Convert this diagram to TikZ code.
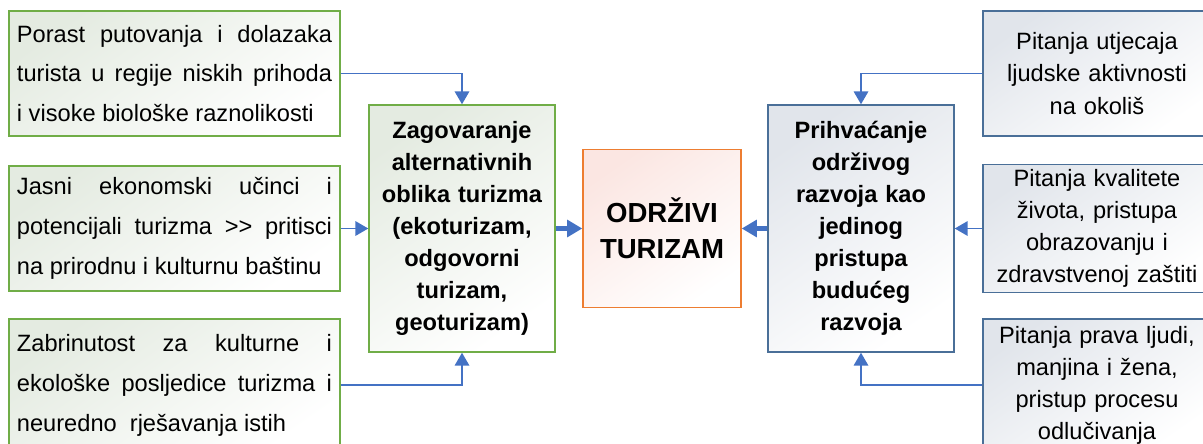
\documentclass[tikz,border=0pt]{standalone}
\usepackage{fontspec}
\setmainfont{Liberation Sans}
\usetikzlibrary{arrows.meta}
\tikzset{>={Triangle[length=3.2mm,width=3.6mm]}}
\definecolor{cgr}{HTML}{70AD47}
\definecolor{cor}{HTML}{ED7D31}
\definecolor{cbl}{HTML}{4A6F98}
\definecolor{car}{HTML}{4472C4}
\definecolor{cgrl}{HTML}{E4EBE1}
\definecolor{corl}{HTML}{FBE6E2}
\definecolor{cbll}{HTML}{E1E5EB}
\tikzset{
  lbox/.style={draw=cgr, line width=1pt, top color=cgrl, bottom color=white, shading angle=35,
    text width=7.875cm, inner xsep=0.2cm, minimum height=3.125cm, align=justify,
    font=\fontsize{16.8}{28.4}\selectfont},
  rbox/.style={draw=cbl, line width=1pt, top color=cbll, bottom color=white, shading angle=35,
    text width=5.3cm, minimum width=5.7cm, minimum height=3.125cm, align=center,
    font=\fontsize{16.8}{22.8}\selectfont},
  cbox/.style={line width=1pt, text width=4.4cm, minimum width=4.65cm, minimum height=6.175cm,
    align=center, font=\bfseries\fontsize{16.8}{22.8}\selectfont},
  arr/.style={->, draw=car, line width=1.2pt},
  thickarr/.style={-{Triangle[length=3.8mm,width=4.2mm]}, draw=car, line width=3pt}
}

\begin{document}
\begin{tikzpicture}[x=0.025cm, y=-0.025cm]
    \useasboundingbox (0, 0) rectangle (1203, 443);
    \clip (0, 0) rectangle (1203, 443);
    % lijevi stupac
    \node[lbox] (porast) at (174.5, 73.5)
        {Porast putovanja i dolazaka\linebreak turista u regije niskih prihoda\linebreak i visoke biološke raznolikosti};
    \node[lbox] (ucinci) at (174.5, 228.5)
        {Jasni ekonomski učinci i\linebreak potencijali turizma >{}> pritisci\linebreak na prirodnu i kulturnu baštinu};
    \node[lbox, minimum height=3.3cm] (zabrinutost) at (174.5, 385)
        {Zabrinutost za kulturne i\linebreak ekološke posljedice turizma i\linebreak neuredno\ \ rješavanja istih};
    % sredina
    \node[cbox, draw=cgr, top color=cgrl, bottom color=white, shading angle=35] (zagovaranje) at (462, 228.5)
        {Zagovaranje\\ alternativnih\\ oblika turizma\\ (ekoturizam,\\ odgovorni\\ turizam,\\ geoturizam)};
    \node[draw=cor, line width=1pt, top color=corl, bottom color=white, shading angle=35,
        minimum width=3.95cm, minimum height=3.95cm, align=center,
        font=\bfseries\fontsize{19.6}{25.6}\selectfont] (odrzivi) at (662, 228.5) {ODRŽIVI\\ TURIZAM};
    \node[cbox, draw=cbl, top color=cbll, bottom color=white, shading angle=35] (prihvacanje) at (861, 228.5)
        {Prihvaćanje\\ održivog\\ razvoja kao\\ jedinog\\ pristupa\\ budućeg\\ razvoja};
    % desni stupac
    \node[rbox] (utjecaj) at (1097, 73.5) {Pitanja utjecaja\\ ljudske aktivnosti\\ na okoliš};
    \node[rbox] (kvaliteta) at (1097, 228.5) {Pitanja kvalitete\\ života, pristupa\\ obrazovanju i\\ zdravstvenoj zaštiti};
    \node[rbox, minimum height=3.3cm] (prava) at (1097, 385) {Pitanja prava ljudi,\\ manjina i žena,\\ pristup procesu\\ odlučivanja};
    % strelice
    \draw[arr] (porast.east) -| (zagovaranje.north);
    \draw[arr] (ucinci.east) -- (zagovaranje.west);
    \draw[arr] (zabrinutost.east) -| (zagovaranje.south);
    \draw[arr] (utjecaj.west) -| (prihvacanje.north);
    \draw[arr] (kvaliteta.west) -- (prihvacanje.east);
    \draw[arr] (prava.west) -| (prihvacanje.south);
    \draw[thickarr] (zagovaranje.east) -- (odrzivi.west);
    \draw[thickarr] (prihvacanje.west) -- (odrzivi.east);
\end{tikzpicture}
\end{document}
